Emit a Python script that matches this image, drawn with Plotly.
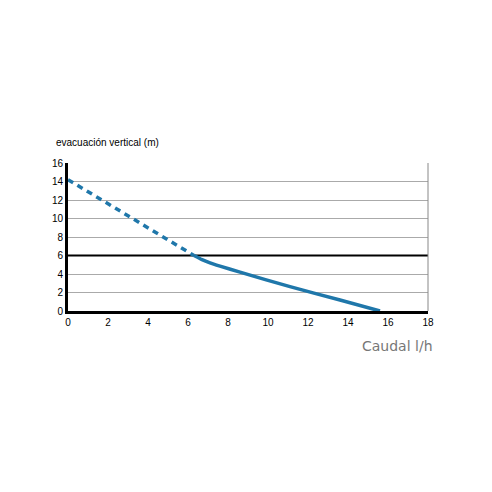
import plotly.graph_objects as go

# data
dashed_x = [0, 6.3]
dashed_y = [14.2, 6.0]
solid_x = [6.3, 6.7, 7.1, 7.6, 8.6, 11.1, 13.6, 15.6]
solid_y = [6.0, 5.55, 5.2, 4.85, 4.2, 2.63, 1.19, 0.0]
limit_y = 6
x_ticks = [0, 2, 4, 6, 8, 10, 12, 14, 16, 18]
y_ticks = [0, 2, 4, 6, 8, 10, 12, 14, 16]

color = "#1f77aa"
fig = go.Figure()
fig.add_trace(go.Scatter(x=[0, 18], y=[limit_y, limit_y], mode="lines",
                         line=dict(color="black", width=2), hoverinfo="skip"))
fig.add_trace(go.Scatter(x=dashed_x, y=dashed_y, mode="lines",
                         line=dict(color=color, width=3.5, dash="6px,5px")))
fig.add_trace(go.Scatter(x=solid_x, y=solid_y, mode="lines",
                         line=dict(color=color, width=3.5, shape="spline", smoothing=0.5)))

font = dict(family="Liberation Sans, Arial", size=10, color="black")
fig.update_layout(
    width=492, height=492, showlegend=False,
    plot_bgcolor="white", paper_bgcolor="white",
    margin=dict(l=68, r=64, t=163, b=181),
    font=font,
    xaxis=dict(range=[0, 18], tickvals=x_ticks, showgrid=False, zeroline=False,
               showline=True, linecolor="black", linewidth=3, ticks="",
               ticklen=0, tickfont=font, mirror=False),
    yaxis=dict(range=[0, 16], tickvals=y_ticks, showgrid=True, gridcolor="#aaaaaa",
               gridwidth=1, zeroline=False, showline=True, linecolor="black",
               linewidth=3, ticks="", tickfont=font),
    annotations=[
        dict(text="evacuación vertical (m)", xref="paper", yref="paper",
             x=-0.04, y=1.09, xanchor="left", yanchor="bottom", showarrow=False,
             font=dict(family="Liberation Sans, Arial", size=10, color="black")),
        dict(text="Caudal l/h", xref="paper", yref="paper",
             x=1.02, y=-0.17, xanchor="right", yanchor="top", showarrow=False,
             font=dict(family="DejaVu Sans, Arial", size=14, color="#777777")),
    ],
    shapes=[dict(type="line", xref="paper", yref="paper", x0=1, x1=1, y0=0, y1=1,
                 line=dict(color="#888888", width=1))],
)
fig.write_html("out.html")
